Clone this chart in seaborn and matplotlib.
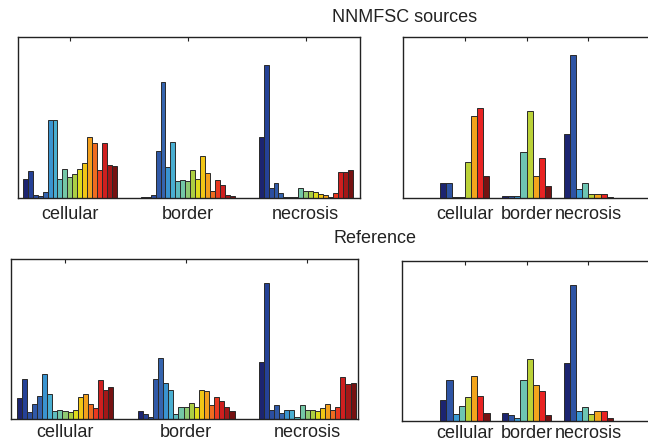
import numpy as np
import pandas as pd
import matplotlib
matplotlib.use('Agg')
import matplotlib.pyplot as plt
import seaborn as sns
from matplotlib.colors import LinearSegmentedColormap

groups = ['cellular', 'border', 'necrosis']

# top left: NNMFSC sources, 19 components per tissue class
src19_cellular = [0.12, 0.166, 0.02, 0.01, 0.035, 0.484, 0.484, 0.12, 0.183, 0.131,
                  0.152, 0.183, 0.22, 0.378, 0.341, 0.177, 0.341, 0.204, 0.197]
src19_border = [0.006, 0.006, 0.02, 0.289, 0.719, 0.195, 0.351, 0.106, 0.114, 0.106,
                0.177, 0.12, 0.264, 0.158, 0.046, 0.114, 0.079, 0.02, 0.01]
src19_necrosis = [0.376, 0.827, 0.062, 0.096, 0.033, 0.006, 0.006, 0.008, 0.062, 0.046,
                  0.046, 0.035, 0.027, 0.019, 0.008, 0.033, 0.164, 0.164, 0.177]

# top right: NNMFSC sources, 8 components
src8_cellular = [0.092, 0.092, 0.006, 0.006, 0.223, 0.507, 0.56, 0.138]
src8_border = [0.015, 0.015, 0.015, 0.286, 0.543, 0.136, 0.25, 0.075]
src8_necrosis = [0.40, 0.889, 0.058, 0.092, 0.023, 0.023, 0.023, 0.006]

# bottom left: reference, 19 components
ref19_cellular = [0.132, 0.253, 0.044, 0.096, 0.149, 0.282, 0.157, 0.05, 0.061, 0.052,
                  0.044, 0.061, 0.138, 0.157, 0.094, 0.069, 0.245, 0.182, 0.2]
ref19_border = [0.052, 0.033, 0.017, 0.253, 0.385, 0.226, 0.182, 0.033, 0.077, 0.077,
                0.105, 0.077, 0.182, 0.176, 0.088, 0.138, 0.113, 0.077, 0.052]
ref19_necrosis = [0.36, 0.854, 0.061, 0.088, 0.042, 0.061, 0.061, 0.017, 0.088, 0.061,
                  0.061, 0.052, 0.069, 0.096, 0.061, 0.079, 0.264, 0.22, 0.228]

# bottom right: reference, 8 components
ref8_cellular = [0.129, 0.252, 0.042, 0.094, 0.146, 0.277, 0.156, 0.05]
ref8_border = [0.05, 0.033, 0.015, 0.252, 0.383, 0.225, 0.183, 0.033]
ref8_necrosis = [0.358, 0.85, 0.06, 0.085, 0.042, 0.06, 0.06, 0.017]

cmap = LinearSegmentedColormap.from_list('jetish', [
    (0.0, '#1c2470'), (0.06, '#26449a'), (0.22, '#3564ae'), (0.30, '#3ca6dc'),
    (0.43, '#6ec6b2'), (0.55, '#a6cc48'), (0.63, '#f0e010'), (0.73, '#f39a1e'),
    (0.86, '#e82222'), (1.0, '#761212')])


def long_df(cols):
    rows = []
    for g, vals in zip(groups, cols):
        for k, v in enumerate(vals):
            rows.append({'group': g, 'comp': str(k), 'value': v})
    return pd.DataFrame(rows)


def draw(ax, cols, xlim, pad=6):
    df = long_df(cols)
    n = len(cols[0])
    pal = [cmap(i / (n - 1)) for i in range(n)]
    sns.barplot(data=df, x='group', y='value', hue='comp', palette=pal,
                width=0.8, dodge=True, legend=False, ax=ax,
                edgecolor='#2a2a2a', linewidth=0.7, saturation=1)
    ax.set_xlim(*xlim)
    ax.set_ylim(0, 1)
    ax.set_yticks([])
    ax.set_xlabel('')
    ax.set_ylabel('')
    ax.tick_params(axis='x', direction='in', top=True, length=3, width=0.8,
                   labelsize=13, pad=pad, colors='#222222')
    for s in ax.spines.values():
        s.set_visible(True)
        s.set_color('#222222')
        s.set_linewidth(1.0)


sns.set_style('white')
plt.rcParams['font.family'] = ['Liberation Sans', 'DejaVu Sans']

fig = plt.figure(figsize=(6.48, 4.44), dpi=100)
ax_tl = fig.add_axes([0.0278, 0.554, 0.5278, 0.3626])
ax_tr = fig.add_axes([0.622, 0.554, 0.381, 0.3626])
ax_bl = fig.add_axes([0.017, 0.0552, 0.5355, 0.3604])
ax_br = fig.add_axes([0.6204, 0.0529, 0.3827, 0.3592])

draw(ax_tl, [src19_cellular, src19_border, src19_necrosis], (-0.44, 2.46))
draw(ax_tr, [src8_cellular, src8_border, src8_necrosis], (-1.0, 3.0))
draw(ax_bl, [ref19_cellular, ref19_border, ref19_necrosis], (-0.446, 2.42), pad=3)
draw(ax_br, [ref8_cellular, ref8_border, ref8_necrosis], (-1.02, 3.0), pad=3)

fig.text(405 / 648, 1 - 18 / 444, 'NNMFSC sources', ha='center', va='center',
         fontsize=13, color='#222222')
fig.text(375 / 648, 1 - 238 / 444, 'Reference', ha='center', va='center',
         fontsize=13, color='#222222')

fig.savefig('out.png', dpi=100)
